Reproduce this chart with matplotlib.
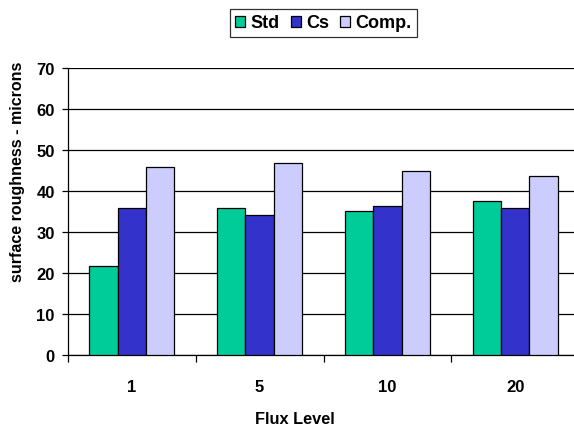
import numpy as np
import matplotlib
matplotlib.use('Agg')
from matplotlib import pyplot as plt

# data
flux_levels = ['1', '5', '10', '20']
std_vals = [21.7, 35.9, 35.2, 37.5]
cs_vals = [35.8, 34.2, 36.3, 35.8]
comp_vals = [45.9, 46.8, 45.0, 43.7]
series_names = ['Std', 'Cs', 'Comp.']
colors = ['#00CC99', '#3333CC', '#CCCCFF']

plt.rcParams['font.family'] = ['Liberation Sans', 'DejaVu Sans']
plt.rcParams['font.weight'] = 'bold'

fig = plt.figure(figsize=(5.74, 4.31), dpi=100)
ax = fig.add_axes([68 / 574, 75 / 431, 511 / 574, 287 / 431])

x = np.arange(len(flux_levels))
w = 0.222
for i, (vals, name, c) in enumerate(zip([std_vals, cs_vals, comp_vals], series_names, colors)):
    ax.bar(x + (i - 1) * w, vals, w, color=c, edgecolor='black', linewidth=0.9, label=name, zorder=3)

ax.set_xlim(-0.5, len(flux_levels) - 0.5)
ax.set_ylim(0, 70)
ax.set_yticks(range(0, 71, 10))
ax.yaxis.grid(True, color='black', linewidth=0.9, zorder=0)
ax.tick_params(axis='y', length=4.5, width=0.9, pad=5, labelsize=12)

ax.set_xticks(x)
ax.set_xticklabels(flux_levels, fontsize=12, fontweight='bold')
ax.set_xticks(np.arange(len(flux_levels)) - 0.5, minor=True)
ax.tick_params(axis='x', which='major', length=0, pad=17)
ax.tick_params(axis='x', which='minor', length=5, width=0.9)

for s in ['top', 'right']:
    ax.spines[s].set_visible(False)
for s in ['left', 'bottom']:
    ax.spines[s].set_linewidth(0.9)

fig.text(295 / 574, 1 - 420 / 431, 'Flux Level', ha='center', va='center', fontsize=11.8, fontweight='bold')
fig.text(18 / 574, 1 - 172 / 431, 'surface roughness - microns', ha='center', va='center',
         rotation=90, fontsize=11.5, fontweight='bold')

leg = fig.legend(loc='center', bbox_to_anchor=(323.5 / 574, 1 - 24 / 431), ncol=3, frameon=True,
                 fancybox=False, edgecolor='black', fontsize=13, handlelength=0.55, handleheight=0.55,
                 handletextpad=0.3, columnspacing=0.6, borderpad=0.3)
leg.get_frame().set_linewidth(0.9)

fig.savefig('out.png', dpi=100)
